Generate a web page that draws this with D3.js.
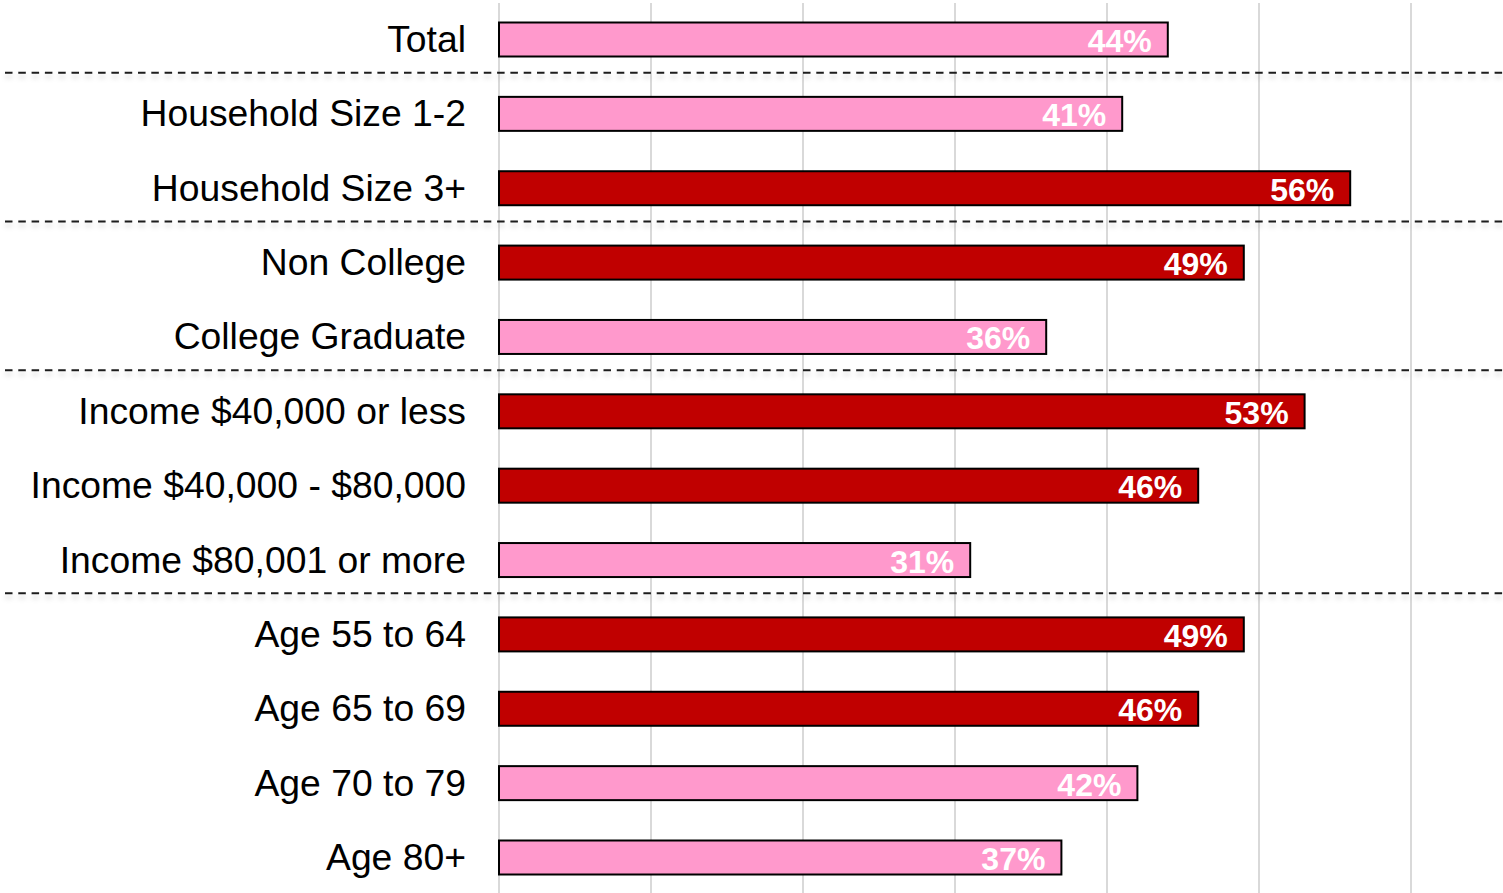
<!DOCTYPE html>
<html lang="en">
<head>
  <meta charset="UTF-8">
  <title>share by group</title>
  <script src="https://d3js.org/d3.v7.min.js"></script>
  <style>
    body { margin: 0; background: white; }
    .grid { stroke: #d9d9d9; stroke-width: 2px; }
    .sep { stroke: #1a1a1a; stroke-width: 2px; stroke-dasharray: 7.5 5.8; }
    .cat { font-family: "Liberation Sans", Arial, sans-serif; font-size: 37.3px; fill: black; }
    .val { font-family: "Liberation Sans", Arial, sans-serif; font-size: 32px; font-weight: bold; fill: white; }
  </style>
</head>
<body>
  <svg id="chart" width="1503" height="893"></svg>
  <script>
    // data
    const categories = ["Total", "Household Size 1-2", "Household Size 3+", "Non College",
      "College Graduate", "Income $40,000 or less", "Income $40,000 - $80,000",
      "Income $80,001 or more", "Age 55 to 64", "Age 65 to 69", "Age 70 to 79", "Age 80+"];
    const values = [44, 41, 56, 49, 36, 53, 46, 31, 49, 46, 42, 37];
    const highlighted = [false, false, true, true, false, true, true, false, true, true, false, false];
    const groupEnds = [0, 2, 4, 7]; // dashed line after these rows
    const gridTicks = [0, 10, 20, 30, 40, 50, 60];

    const svg = d3.select("#chart");

    const x = d3.scaleLinear().domain([0, 60]).range([499, 1411]);
    const y = d3.scalePoint().domain(categories).range([39.5, 857.5]);
    const barH = 34;

    // horizontal lines have a zero-height bbox, so give the filter a user-space region
    const defs = svg.append("defs");
    const f = defs.append("filter").attr("id", "shadow")
      .attr("filterUnits", "userSpaceOnUse")
      .attr("x", 0).attr("y", 0).attr("width", 1503).attr("height", 893);
    f.append("feDropShadow").attr("dx", 0).attr("dy", 4).attr("stdDeviation", 2.5)
      .attr("flood-color", "#000").attr("flood-opacity", 0.18);

    svg.selectAll("line.grid").data(gridTicks)
      .join("line")
      .attr("class", "grid")
      .attr("x1", d => x(d)).attr("x2", d => x(d))
      .attr("y1", 3).attr("y2", 893);

    const sepY = i => (y(categories[i]) + y(categories[i + 1])) / 2 - 4;
    svg.selectAll("line.sep").data(groupEnds)
      .join("line")
      .attr("class", "sep")
      .attr("filter", "url(#shadow)")
      .attr("x1", 5).attr("x2", 1503)
      .attr("y1", sepY)
      .attr("y2", sepY);

    svg.selectAll("rect.bar").data(values)
      .join("rect")
      .attr("class", "bar")
      .attr("x", x(0))
      .attr("y", (d, i) => y(categories[i]) - barH / 2)
      .attr("width", d => x(d) - x(0))
      .attr("height", barH)
      .attr("fill", (d, i) => highlighted[i] ? "#c00000" : "#ff99cc")
      .attr("stroke", "black")
      .attr("stroke-width", 2);

    svg.selectAll("text.val").data(values)
      .join("text")
      .attr("class", "val")
      .attr("text-anchor", "end")
      .attr("x", d => x(d) - 16)
      .attr("y", (d, i) => y(categories[i]) + 12.5)
      .text(d => d + "%");

    svg.selectAll("text.cat").data(categories)
      .join("text")
      .attr("class", "cat")
      .attr("text-anchor", "end")
      .attr("x", 466)
      .attr("y", d => y(d) + 12.5)
      .text(d => d);
  </script>
</body>
</html>
